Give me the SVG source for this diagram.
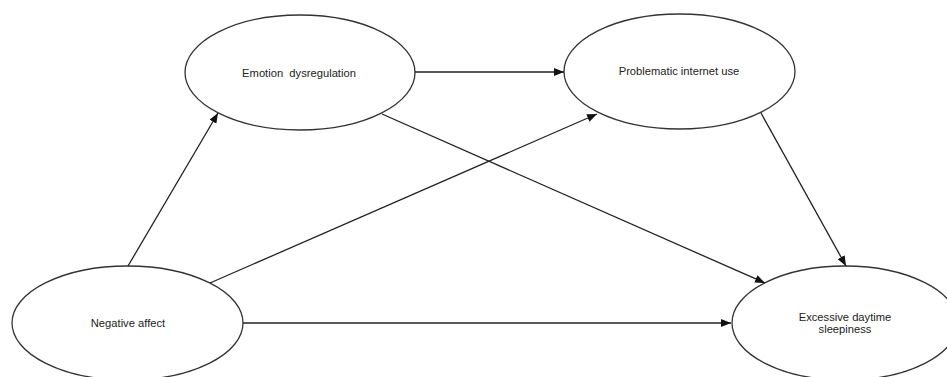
<svg xmlns="http://www.w3.org/2000/svg" width="947" height="377" viewBox="0 0 947 377">
<style>
.n ellipse{fill:#fff;stroke:#333;stroke-width:1.3}
.n text{font-family:"Liberation Sans",Arial,sans-serif;font-size:11.2px;fill:#222;text-anchor:middle}
.c line{stroke:#222;stroke-width:1.3;fill:none;marker-end:url(#ah)}
</style>
<defs>
<marker id="ah" viewBox="0 0 10 8" refX="10" refY="4" markerWidth="10" markerHeight="8" markerUnits="userSpaceOnUse" orient="auto">
<path d="M0,0 L10,4 L0,8 Z" fill="#111"/>
</marker>
</defs>
<rect width="947" height="377" fill="#fff"/>
<g class="n" id="emotion-dysregulation">
<ellipse cx="300" cy="72.5" rx="115" ry="57.5"/>
<text x="299" y="77" xml:space="preserve">Emotion  dysregulation</text>
</g>
<g class="n" id="problematic-internet-use">
<ellipse cx="679.5" cy="71.5" rx="115.5" ry="57.5"/>
<text x="679" y="75">Problematic internet use</text>
</g>
<g class="n" id="negative-affect">
<ellipse cx="127.5" cy="323" rx="115.5" ry="57"/>
<text x="128" y="327">Negative affect</text>
</g>
<g class="n" id="excessive-daytime-sleepiness">
<ellipse cx="845" cy="323" rx="113" ry="57"/>
<text x="845" y="321">Excessive daytime</text>
<text x="845" y="333">sleepiness</text>
</g>
<g class="c" id="connectors">
<line x1="128" y1="266" x2="218" y2="113"/>
<line x1="415" y1="72" x2="564" y2="72"/>
<line x1="210" y1="283" x2="597" y2="114"/>
<line x1="382" y1="114" x2="765" y2="283"/>
<line x1="761" y1="113" x2="846" y2="266"/>
<line x1="243" y1="323" x2="731" y2="323"/>
</g>
</svg>
